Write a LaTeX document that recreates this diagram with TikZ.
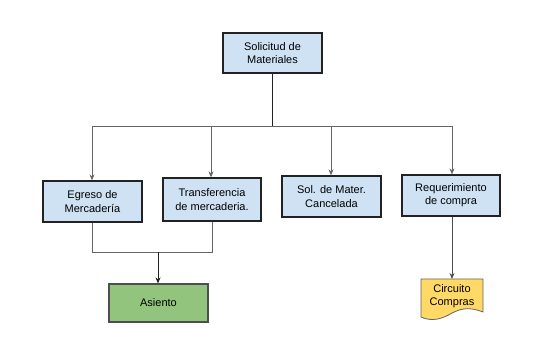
\documentclass[tikz,border=0pt]{standalone}
\usepackage{fontspec}
\setmainfont{Liberation Sans}
\usetikzlibrary{arrows.meta}
\definecolor{boxblue}{HTML}{CFE2F3}
\definecolor{boxgreen}{HTML}{93C47D}
\definecolor{boxyellow}{HTML}{FFD966}
\definecolor{edgedark}{HTML}{222222}
\definecolor{linegray}{HTML}{666666}
\tikzset{
  x=1pt, y=-1pt,
  bluebox/.style={draw=edgedark, line width=1.3pt, fill=boxblue, align=center,
    font=\fontsize{11}{13.3}\selectfont, inner sep=0pt},
  greenbox/.style={draw=edgedark!80, line width=1.1pt, fill=boxgreen, align=center,
    font=\fontsize{11}{13.3}\selectfont, inner sep=0pt},
  topline/.style={draw=edgedark, line width=1pt},
  grayline/.style={draw=linegray, line width=0.8pt},
  arr/.style={-{Stealth[length=6pt,width=5pt]}},
}
\begin{document}
\begin{tikzpicture}
\useasboundingbox[fill=white] (0,0) rectangle (550,339);
% boxes
\node[bluebox, minimum width=99pt, minimum height=40pt] (sol) at (272.5,53) {Solicitud de\\Materiales};
\node[bluebox, minimum width=99pt, minimum height=41pt] (egr) at (92.5,201.5) {Egreso de\\Mercadería};
\node[bluebox, minimum width=98pt, minimum height=43pt] (tra) at (212,199.5) {Transferencia\\de mercaderia.};
\node[bluebox, minimum width=99pt, minimum height=41pt] (can) at (331.5,196.5) {Sol. de Mater.\\Cancelada};
\node[bluebox, minimum width=98pt, minimum height=41pt] (req) at (451,195.5) {Requerimiento\\de compra};
\node[greenbox, minimum width=99pt, minimum height=38pt] (asi) at (158.5,303) {Asiento};
% document shape
\coordinate (docA) at (421,279);
\coordinate (docB) at (483,279);
\coordinate (docC) at (483,312);
\coordinate (docD) at (421,317);
\draw[fill=boxyellow, draw=edgedark!70, line width=0.8pt]
  (docA) -- (docB) -- (docC)
  .. controls (470,307) and (462,308) .. (452,313)
  .. controls (442,319) and (432,322) .. (docD) -- cycle;
\node[font=\fontsize{11}{13.3}\selectfont, align=center] (cir) at (452,296) {Circuito\\Compras};
% top tree
\coordinate (hub) at (272.5,126);
\coordinate (hl) at (92,126);
\coordinate (hr) at (452,126);
\draw[topline] (sol.south) -- (hub);
\draw[grayline] (hl) -- (hr);
\draw[grayline, arr] (hl) -- (egr.north -| hl);
\draw[grayline, arr] (211,126) -- (tra.north -| 211,0);
\draw[grayline, arr] (331,126) -- (can.north -| 331,0);
\draw[grayline, arr] (hr) -- (req.north -| hr);
% bottom left join
\coordinate (j1) at (92,252);
\coordinate (j2) at (212,252);
\coordinate (jm) at (158,252);
\draw[grayline] (egr.south -| j1) -- (j1) -- (j2) -- (tra.south -| j2);
\draw[draw=edgedark, line width=0.9pt, arr] (jm) -- (asi.north -| jm);
% right arrow
\draw[draw=edgedark!80, line width=0.9pt, arr] (req.south -| 452,0) -- (452,279);
\end{tikzpicture}
\end{document}
